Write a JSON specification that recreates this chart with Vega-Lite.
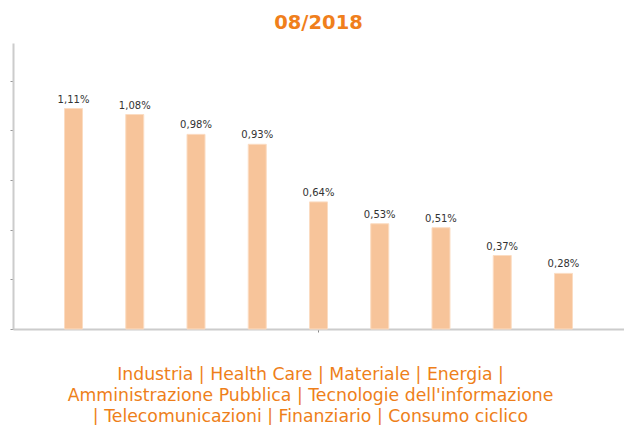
{
  "$schema": "https://vega.github.io/schema/vega-lite/v6.json",
  "width": 611,
  "height": 286,
  "autosize": "none",
  "padding": {"left": 13, "top": 43, "right": 0, "bottom": 96},
  "background": "white",
  "title": {
    "text": "08/2018",
    "font": "DejaVu Sans",
    "fontSize": 19.5,
    "fontWeight": "bold",
    "color": "#F07F1C",
    "anchor": "middle",
    "offset": 10
  },
  "data": {
    "values": [
      {"settore": "Industria", "valore": 1.11, "label": "1,11%"},
      {"settore": "Health Care", "valore": 1.08, "label": "1,08%"},
      {"settore": "Materiale", "valore": 0.98, "label": "0,98%"},
      {"settore": "Energia", "valore": 0.93, "label": "0,93%"},
      {"settore": "Amministrazione Pubblica", "valore": 0.64, "label": "0,64%"},
      {"settore": "Tecnologie dell'informazione", "valore": 0.53, "label": "0,53%"},
      {"settore": "Telecomunicazioni", "valore": 0.51, "label": "0,51%"},
      {"settore": "Finanziario", "valore": 0.37, "label": "0,37%"},
      {"settore": "Consumo ciclico", "valore": 0.28, "label": "0,28%"}
    ]
  },
  "encoding": {
    "x": {
      "field": "settore",
      "type": "nominal",
      "sort": null,
      "scale": {"paddingInner": 0.706, "paddingOuter": 0.841},
      "axis": {
        "values": ["Amministrazione Pubblica"],
        "labels": false,
        "ticks": true,
        "tickSize": 3,
        "tickColor": "#888888",
        "domainColor": "#cccccc",
        "domainWidth": 2,
        "grid": false,
        "title": [
          "Industria | Health Care | Materiale | Energia |",
          "Amministrazione Pubblica | Tecnologie dell'informazione",
          "| Telecomunicazioni | Finanziario | Consumo ciclico"
        ],
        "titleFont": "DejaVu Sans",
        "titleFontSize": 17.3,
        "titleFontWeight": "normal",
        "titleColor": "#EE7F1A",
        "titleLineHeight": 21,
        "titlePadding": 33,
        "titleX": 297
      }
    },
    "y": {
      "field": "valore",
      "type": "quantitative",
      "scale": {"domain": [0, 1.44], "nice": false},
      "axis": {
        "values": [0, 0.25, 0.5, 0.75, 1, 1.25],
        "labels": false,
        "title": null,
        "grid": false,
        "ticks": true,
        "tickSize": 3,
        "tickColor": "#999999",
        "domainColor": "#cccccc",
        "domainWidth": 2
      }
    }
  },
  "layer": [
    {
      "mark": {"type": "bar", "color": "#F7C49A", "stroke": "#FBDCC2", "strokeWidth": 1}
    },
    {
      "mark": {
        "type": "text",
        "baseline": "bottom",
        "dy": -4,
        "font": "DejaVu Sans",
        "fontSize": 10,
        "color": "#333333"
      },
      "encoding": {"text": {"field": "label"}}
    }
  ],
  "config": {"view": {"stroke": null}}
}
